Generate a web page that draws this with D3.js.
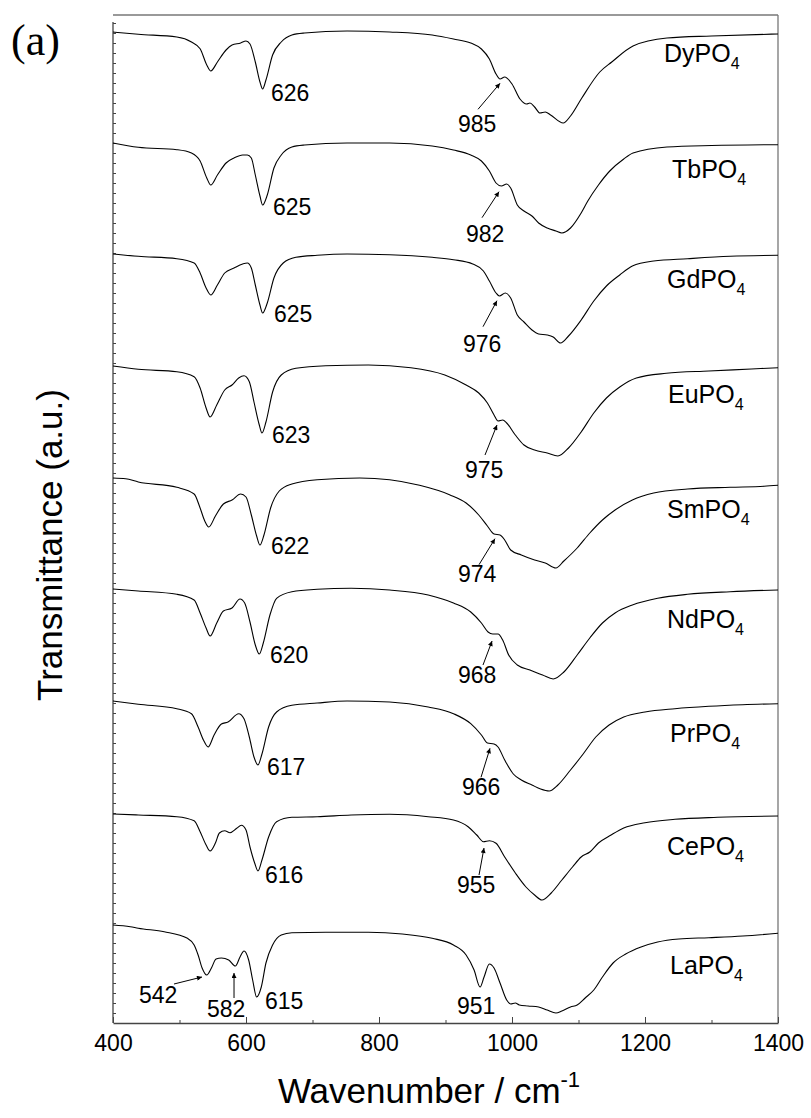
<!DOCTYPE html>
<html>
<head>
<meta charset="utf-8">
<script src="https://cdn.jsdelivr.net/npm/d3@7"></script>
<style>
  body { margin: 0; background: #fff; }
  text { font-family: "Liberation Sans", Arial, Helvetica, sans-serif; fill: #000; }
</style>
</head>
<body>
<svg id="chart" width="811" height="1118"></svg>
<script>
// samples from top to bottom
var sampleNames = ['Dy', 'Tb', 'Gd', 'Eu', 'Sm', 'Nd', 'Pr', 'Ce', 'La'];
// vertical offset of each trace (a.u.)
var baselines = [991, 880, 769, 657, 545, 434, 322, 209, 98];

// [wavenumber, transmittance relative to the trace start]
var dySpectrum = [[400,0],[438,-2.3],[496,-5],[518,-10],[531,-16.7],[541,-33],[547,-39],[557,-30],[570,-18],[579,-13],[592,-11],[600,-9],[606,-12],[614,-30],[621,-50],[625,-57],[630,-48],[640,-23],[653,-10],[669,-3],[688,-1],[752,1],[816,0],[880,-3],[912,-7],[938,-11],[954,-17],[966,-27],[976,-42],[982,-47],[989,-45],[1000,-52],[1012,-67],[1022,-72],[1027,-71],[1034,-75],[1042,-81],[1050,-80],[1058,-83],[1077,-91],[1088,-84],[1105,-66],[1132,-40],[1150,-30],[1182,-14],[1233,-6],[1300,-4],[1400,-2]];
var tbSpectrum = [[400,0],[438,-4.3],[496,-6.7],[518,-10],[531,-18],[541,-35],[547,-42],[557,-32],[570,-20],[582,-15],[595,-12],[602,-12],[608,-15],[614,-32],[621,-53],[625,-62],[632,-52],[642,-25],[653,-12],[669,-4],[688,-2],[752,0],[816,0],[880,-3],[912,-7],[938,-12],[954,-18],[966,-28],[976,-40],[984,-43],[992,-41],[998,-45],[1008,-62],[1018,-68],[1030,-73],[1040,-80],[1053,-85],[1066,-88],[1075,-90],[1088,-85],[1104,-70],[1114,-58],[1130,-42],[1147,-28],[1168,-16],[1182,-10],[1233,-4],[1300,-2.5],[1400,-1.7]];
var gdSpectrum = [[400,0],[438,-2.3],[496,-4.7],[522,-9],[531,-19],[540,-34],[547,-41],[557,-31],[568,-19],[582,-14],[595,-10],[602,-9],[608,-14],[614,-31],[621,-51],[625,-59],[632,-49],[642,-24],[656,-9],[675,-3.3],[707,-1.3],[752,0],[816,-0.7],[880,-3.3],[912,-5.7],[941,-10],[957,-17],[966,-27],[976,-39],[981,-42],[990,-39],[998,-44],[1008,-61],[1018,-68],[1030,-76],[1040,-80],[1053,-81],[1062,-83],[1073,-89],[1085,-82],[1104,-66],[1123,-47],[1142,-32],[1162,-21],[1181,-12],[1213,-7],[1264,-4.7],[1328,-2.3],[1400,-1.3]];
var euSpectrum = [[400,0],[438,-3.3],[496,-5.7],[522,-10.7],[531,-22],[540,-42],[546,-51],[556,-39],[568,-24],[579,-19],[589,-12],[597,-9.7],[605,-15.7],[612,-36],[620,-59],[624,-67],[630,-56],[640,-26],[653,-9],[675,-2.3],[720,0.3],[784,1],[848,-1.7],[899,-9],[931,-19],[950,-27],[963,-37],[973,-49],[979,-55],[986,-54],[992,-57],[1005,-69],[1018,-79],[1034,-84],[1053,-87],[1069,-90],[1085,-82],[1104,-66],[1123,-47],[1142,-32],[1162,-21],[1187,-12],[1232,-7.3],[1296,-5],[1360,-3],[1400,-1.7]];
var smSpectrum = [[400,0],[419,-0.7],[438,-4],[496,-9.3],[522,-16],[531,-30],[538,-43],[544,-49],[554,-38],[566,-26],[579,-22],[592,-16],[600,-19],[608,-37],[616,-58],[621,-67],[627,-57],[637,-30],[650,-13],[669,-6],[707,-1.7],[771,0],[816,-1.7],[861,-7.3],[906,-16.7],[931,-25],[950,-37],[963,-48],[973,-56],[982,-57],[989,-62],[998,-72],[1014,-77],[1034,-82],[1050,-85],[1066,-90],[1078,-83],[1098,-70],[1117,-55],[1136,-42],[1155,-32],[1181,-22],[1213,-15],[1264,-11],[1328,-9.3],[1379,-8.3],[1400,-7.3]];
var ndSpectrum = [[400,0],[438,-2],[496,-5.3],[522,-11],[531,-24],[540,-39],[546,-47],[556,-34],[566,-22],[579,-19],[591,-10],[598,-14],[606,-33],[614,-56],[620,-65],[626,-54],[636,-26],[646,-9.3],[669,-2.7],[707,-0.3],[758,0.7],[816,-1],[874,-6],[912,-14],[938,-23],[954,-34],[964,-43],[971,-45],[979,-45],[986,-51],[995,-66],[1008,-76],[1027,-81],[1046,-86],[1062,-90],[1078,-83],[1098,-66],[1117,-49],[1136,-34],[1155,-24],[1181,-16],[1219,-9.3],[1264,-5.3],[1328,-2.7],[1400,-1]];
var prSpectrum = [[400,0],[438,-3.3],[496,-7.7],[518,-12.7],[528,-26],[536,-39],[543,-46],[552,-34],[563,-23],[573,-21],[589,-12.7],[597,-17.7],[605,-36],[612,-56],[618,-64],[624,-53],[634,-26],[646,-11],[669,-4.3],[707,-2],[752,0],[816,-1],[874,-6],[912,-12.7],[938,-22.7],[954,-34],[963,-42],[973,-43],[979,-46],[989,-59],[1002,-73],[1014,-79],[1030,-84],[1043,-88],[1056,-90],[1069,-84],[1088,-69],[1107,-53],[1126,-36],[1146,-24],[1168,-16],[1200,-11],[1245,-7.7],[1296,-5.3],[1347,-3.7],[1400,-2.7]];
var ceSpectrum = [[400,0],[438,-1],[496,-2.7],[522,-6.7],[531,-17.7],[540,-31],[546,-37],[554,-29],[560,-19],[568,-16.7],[576,-18.7],[586,-14.3],[593,-11.3],[600,-16],[606,-33],[613,-49],[618,-57],[624,-46],[634,-23],[646,-7.7],[669,-3.3],[707,-2.7],[758,-1],[816,-0.3],[874,-2.7],[912,-6],[934,-12.7],[947,-21],[957,-27.7],[966,-26.7],[976,-29.3],[989,-43],[1005,-59],[1021,-73],[1034,-81],[1045,-86],[1059,-79],[1075,-66],[1091,-53],[1104,-43],[1117,-38],[1130,-29],[1149,-21],[1168,-14],[1200,-8.7],[1245,-5.3],[1309,-3.3],[1400,-2]];
var laSpectrum = [[400,0],[426,-1.7],[438,-3.3],[477,-6.7],[512,-13.3],[522,-20],[528,-30],[534,-43],[541,-50],[548,-43],[555,-34],[563,-33],[574,-35],[584,-41],[591,-32],[597,-26],[604,-35],[610,-55],[616,-72],[623,-62],[630,-38],[640,-20],[653,-10],[669,-7.7],[720,-7.3],[784,-7.3],[835,-9],[880,-13.3],[912,-20],[931,-30],[943,-45],[952,-62],[958,-52],[966,-39],[973,-43],[982,-58],[992,-75],[998,-79],[1005,-78],[1011,-80],[1024,-81],[1040,-82],[1053,-85],[1066,-88],[1075,-86],[1088,-82],[1098,-80],[1110,-73],[1123,-65],[1136,-52],[1152,-38],[1171,-29],[1194,-22],[1219,-17],[1251,-14],[1296,-12.7],[1347,-11],[1400,-8.3]];
var spectra = [dySpectrum, tbSpectrum, gdSpectrum, euSpectrum, smSpectrum, ndSpectrum, prSpectrum, ceSpectrum, laSpectrum];

// band labels [text, wavenumber, transmittance relative to trace]
var lowBandLabels = [['626',637.6,-69.3],['625',640.6,-71.7],['625',642.1,-67.7],['623',639.1,-77],['622',637.6,-75.7],['620',636.1,-74],['617',631.6,-74.3],['616',628.6,-69],['615',628.6,-84]];
var highBandLabels = [['985',918.8,-100.3],['982',930.8,-98.7],['976',926.3,-97.7],['975',929.3,-112],['974',918.8,-103.7],['968',918.8,-94],['966',924.8,-94.3],['955',917.3,-79],['951',917.3,-89]];
// arrows [wn from, T from, wn to, T to], Dy .. Ce
var highBandArrows = [[948.9,-77.3,982,-51.3],[954.9,-74.7,980.5,-48.7],[956.4,-72.7,977.4,-46.7],[959.4,-89,977.4,-59],[950.4,-86.7,974.4,-60.7],[956.4,-76,970,-52],[953.4,-76.3,966.9,-47.3],[950.4,-61,957.9,-34]];
var laExtraLabels = [['542',439.1,-78],['582',541.4,-92]];
var laExtraArrows = [[491.7,-59,533.8,-52],[582,-73,582,-48]];
var nameLabelPos = [[1228.6,-30.3],[1240.6,-34.7],[1233.1,-33.7],[1234.6,-37],[1233.1,-39.7],[1233.1,-39],[1237.6,-41.3],[1233.1,-41],[1237.6,-49]];

var majorTicks = [400, 600, 800, 1000, 1200, 1400];
var minorTicks = d3.range(400, 1401, 100);

var svg = d3.select('#chart');
var x = d3.scaleLinear().domain([400, 1400]).range([113, 778]);
var y = d3.scaleLinear().domain([0, 1008]).range([1023, 15]);
var frameColor = '#444';

svg.append('defs').append('marker')
  .attr('id', 'head')
  .attr('viewBox', '0 0 10 10')
  .attr('refX', 10).attr('refY', 5)
  .attr('markerUnits', 'userSpaceOnUse')
  .attr('markerWidth', 7).attr('markerHeight', 5)
  .attr('orient', 'auto')
  .append('path').attr('d', 'M0,0L10,5L0,10z').attr('fill', '#000');

// frame: top and right
svg.append('line')
  .attr('x1', x(400)).attr('x2', x(1400)).attr('y1', y(1008)).attr('y2', y(1008))
  .attr('stroke', '#777').attr('stroke-width', 1.3);
svg.append('line')
  .attr('x1', x(1400)).attr('x2', x(1400)).attr('y1', y(1008)).attr('y2', y(0))
  .attr('stroke', '#777').attr('stroke-width', 1.3);

// left axis with dense inner ticks
var leftAxis = svg.append('g')
  .attr('transform', 'translate(' + x(400) + ',0)')
  .call(d3.axisRight(y).tickValues(d3.range(10, 1001, 10)).tickSize(3).tickFormat(''));
leftAxis.select('.domain').remove();
leftAxis.selectAll('line').attr('stroke', frameColor);
leftAxis.append('line')
  .attr('x1', 0).attr('x2', 0).attr('y1', y(1001)).attr('y2', y(0))
  .attr('stroke', frameColor).attr('stroke-width', 1.3);

// bottom axis
var minorAxis = svg.append('g')
  .attr('transform', 'translate(0,' + y(0) + ')')
  .call(d3.axisBottom(x).tickValues(minorTicks).tickSize(-3).tickSizeOuter(0).tickFormat(''));
minorAxis.select('.domain').attr('stroke', frameColor).attr('stroke-width', 1.3);
minorAxis.selectAll('line').attr('stroke', frameColor);

var majorAxis = svg.append('g')
  .attr('transform', 'translate(0,' + y(0) + ')')
  .call(d3.axisBottom(x).tickValues(majorTicks).tickSize(-6).tickSizeOuter(0)
    .tickPadding(12).tickFormat(d3.format('d')));
majorAxis.select('.domain').remove();
majorAxis.selectAll('line').attr('stroke', frameColor);
majorAxis.selectAll('text')
  .style('font-family', '"Liberation Sans", Arial, sans-serif')
  .style('font-size', '23px').attr('fill', '#000');

// traces
var line = d3.line().curve(d3.curveMonotoneX);
var traces = svg.append('g').attr('class', 'traces');
spectra.forEach(function (spec, i) {
  traces.append('path')
    .datum(spec)
    .attr('d', line.x(function (d) { return x(d[0]); })
                   .y(function (d) { return y(baselines[i] + d[1]); }))
    .attr('fill', 'none')
    .attr('stroke', '#000')
    .attr('stroke-width', 1.1);
});

// annotations
var notes = svg.append('g').attr('class', 'notes');
function bandLabel(lbl, i) {
  notes.append('text')
    .attr('x', x(lbl[1]))
    .attr('y', y(baselines[i] + lbl[2]))
    .style('font-size', '23px')
    .text(lbl[0]);
}
function bandArrow(a, i) {
  notes.append('line')
    .attr('x1', x(a[0])).attr('y1', y(baselines[i] + a[1]))
    .attr('x2', x(a[2])).attr('y2', y(baselines[i] + a[3]))
    .attr('stroke', '#000').attr('stroke-width', 1)
    .attr('marker-end', 'url(#head)');
}
lowBandLabels.forEach(bandLabel);
highBandLabels.forEach(bandLabel);
highBandArrows.forEach(bandArrow);
var laIndex = sampleNames.indexOf('La');
laExtraLabels.forEach(function (l) { bandLabel(l, laIndex); });
laExtraArrows.forEach(function (a) { bandArrow(a, laIndex); });

sampleNames.forEach(function (name, i) {
  var t = notes.append('text')
    .attr('x', x(nameLabelPos[i][0]))
    .attr('y', y(baselines[i] + nameLabelPos[i][1]))
    .style('font-size', '25px');
  t.append('tspan').text(name + 'PO');
  t.append('tspan').attr('dy', 7).style('font-size', '16px').text('4');
});

// axis titles
var xTitle = svg.append('text')
  .attr('x', 429).attr('y', 1103)
  .attr('text-anchor', 'middle')
  .style('font-size', '35px');
xTitle.append('tspan').text('Wavenumber / cm');
xTitle.append('tspan').attr('dy', -16).style('font-size', '22px').text('-1');

svg.append('text')
  .attr('transform', 'translate(62,545) rotate(-90)')
  .attr('text-anchor', 'middle')
  .style('font-size', '35px')
  .text('Transmittance (a.u.)');

svg.append('text')
  .attr('x', 11).attr('y', 55)
  .style('font-family', '"Liberation Serif", "Times New Roman", serif')
  .style('font-size', '44px')
  .text('(a)');
</script>
</body>
</html>
